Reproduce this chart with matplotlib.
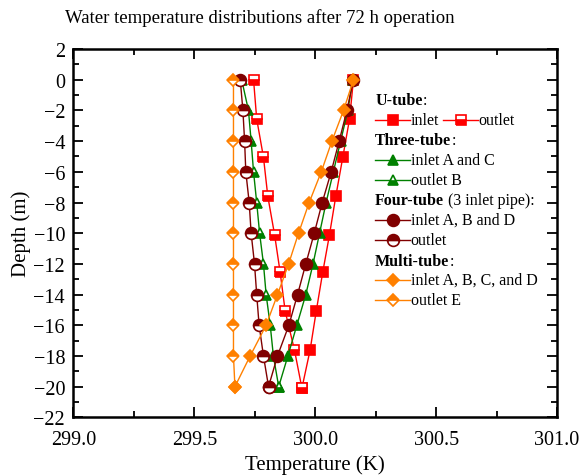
import numpy as np
import matplotlib
matplotlib.use('Agg')
from matplotlib import pyplot as plt
from matplotlib.lines import Line2D
from matplotlib.ticker import MultipleLocator, FormatStrFormatter

plt.rcParams['font.family'] = ['Liberation Serif', 'DejaVu Serif']

# Depths (m)
depth = [0, -2, -4, -6, -8, -10, -12, -14, -16, -18, -20]
uDepth = [0, -2.55, -5.05, -7.6, -10.1, -12.55, -15.1, -17.6, -20.1]

# Temperatures (K)
uInlet = [300.158, 300.142, 300.114, 300.085, 300.059, 300.031, 300.004, 299.979, 299.945]
uOutlet = [299.745, 299.758, 299.786, 299.804, 299.832, 299.855, 299.876, 299.914, 299.945]
threeInlet = [300.155, 300.135, 300.105, 300.075, 300.045, 300.018, 299.991, 299.961, 299.924, 299.887, 299.849]
threeOutlet = [299.696, 299.724, 299.735, 299.745, 299.758, 299.770, 299.786, 299.797, 299.814, 299.827, 299.849]
fourInlet = [300.158, 300.131, 300.099, 300.066, 300.029, 299.996, 299.961, 299.927, 299.891, 299.844, 299.807]
fourOutlet = [299.690, 299.701, 299.708, 299.713, 299.727, 299.735, 299.749, 299.758, 299.768, 299.786, 299.807]
multiInlet = [300.158, 300.117, 300.069, 300.025, 299.975, 299.931, 299.890, 299.844, 299.797, 299.731, 299.668]
multiOutlet = [299.662, 299.662, 299.662, 299.662, 299.662, 299.662, 299.662, 299.662, 299.662, 299.662, 299.668]

RED = '#ff0000'
GREEN = '#008000'
DARKRED = '#800000'
ORANGE = '#ff8000'

# marker styles: (marker, size, color, fillstyle)
styles = {
    'uIn': ('s', 7.5, RED, 'full'),
    'uOut': ('s', 7.5, RED, 'bottom'),
    'thIn': ('^', 7, GREEN, 'full'),
    'thOut': ('^', 7, GREEN, 'bottom'),
    'foIn': ('o', 8.5, DARKRED, 'full'),
    'foOut': ('o', 8.5, DARKRED, 'top'),
    'muIn': ('D', 6.5, ORANGE, 'full'),
    'muOut': ('D', 6.5, ORANGE, 'top'),
}


def plotSeries(ax, x, y, key):
    m, ms, c, fs = styles[key]
    ax.plot(x, y, color=c, lw=1, marker=m, ms=ms, mec=c, mfc=c,
            fillstyle=fs, markerfacecoloralt='white', mew=1.2)


def legendEntry(ax, x0, y, key, text):
    m, ms, c, fs = styles[key]
    ax.add_line(Line2D([x0, x0 + 0.072], [y, y], transform=ax.transAxes, color=c, lw=1,
                       clip_on=False))
    ax.add_line(Line2D([x0 + 0.036], [y], transform=ax.transAxes, color=c, marker=m, ms=ms,
                       mec=c, mfc=c, fillstyle=fs, markerfacecoloralt='white', mew=1.2,
                       clip_on=False))
    ax.text(x0 + 0.073, y, text, transform=ax.transAxes, fontsize=11.5, va='center', ha='left')


def legendHeader(ax, y, bold, rest):
    t = ax.text(0.624, y, bold, transform=ax.transAxes, fontsize=11.5, fontweight='bold',
                va='center', ha='left')
    ax.annotate(rest, xycoords=t, xy=(1, 0.5), va='center', ha='left', fontsize=11.5)


def main():
    fig = plt.figure(figsize=(5.87, 4.77), dpi=100)
    ax = fig.add_axes([0.125, 0.123, 0.824, 0.772])

    plotSeries(ax, uInlet, uDepth, 'uIn')
    plotSeries(ax, uOutlet, uDepth, 'uOut')
    plotSeries(ax, threeInlet, depth, 'thIn')
    plotSeries(ax, threeOutlet, depth, 'thOut')
    plotSeries(ax, fourInlet, depth, 'foIn')
    plotSeries(ax, fourOutlet, depth, 'foOut')
    plotSeries(ax, multiOutlet, depth, 'muOut')
    plotSeries(ax, multiInlet, depth, 'muIn')

    ax.set_xlim(299.0, 301.0)
    ax.set_ylim(-22, 2)
    ax.xaxis.set_major_locator(MultipleLocator(0.5))
    ax.xaxis.set_minor_locator(MultipleLocator(0.25))
    ax.xaxis.set_major_formatter(FormatStrFormatter('%.1f'))
    ax.yaxis.set_major_locator(MultipleLocator(2))
    ax.yaxis.set_minor_locator(MultipleLocator(1))
    ax.tick_params(which='both', direction='in', top=True, right=True, width=1.3)
    ax.tick_params(which='major', length=7, labelsize=14.5)
    ax.tick_params(axis='x', which='major', pad=9)
    ax.tick_params(axis='y', which='major', pad=6)
    ax.tick_params(which='minor', length=4)
    for s in ax.spines.values():
        s.set_linewidth(1.8)

    ax.set_xlabel('Temperature (K)', fontsize=15, labelpad=4)
    ax.set_ylabel('Depth (m)', fontsize=15, labelpad=2)
    fig.text(0.443, 0.962, 'Water temperature distributions after 72 h operation',
             fontsize=13.5, ha='center', va='center')

    # Legend
    legendHeader(ax, 0.862, 'U-tube', ':')
    legendEntry(ax, 0.624, 0.808, 'uIn', 'inlet')
    legendEntry(ax, 0.765, 0.808, 'uOut', 'outlet')
    legendHeader(ax, 0.754, 'Three-tube', ':')
    legendEntry(ax, 0.624, 0.699, 'thIn', 'inlet A and C')
    legendEntry(ax, 0.624, 0.645, 'thOut', 'outlet B')
    legendHeader(ax, 0.591, 'Four-tube', ' (3 inlet pipe):')
    legendEntry(ax, 0.624, 0.537, 'foIn', 'inlet A, B and D')
    legendEntry(ax, 0.624, 0.482, 'foOut', 'outlet')
    legendHeader(ax, 0.425, 'Multi-tube', ':')
    legendEntry(ax, 0.624, 0.373, 'muIn', 'inlet A, B, C, and D')
    legendEntry(ax, 0.624, 0.318, 'muOut', 'outlet E')

    fig.savefig('out.png', dpi=100)


if __name__ == '__main__':
    main()
